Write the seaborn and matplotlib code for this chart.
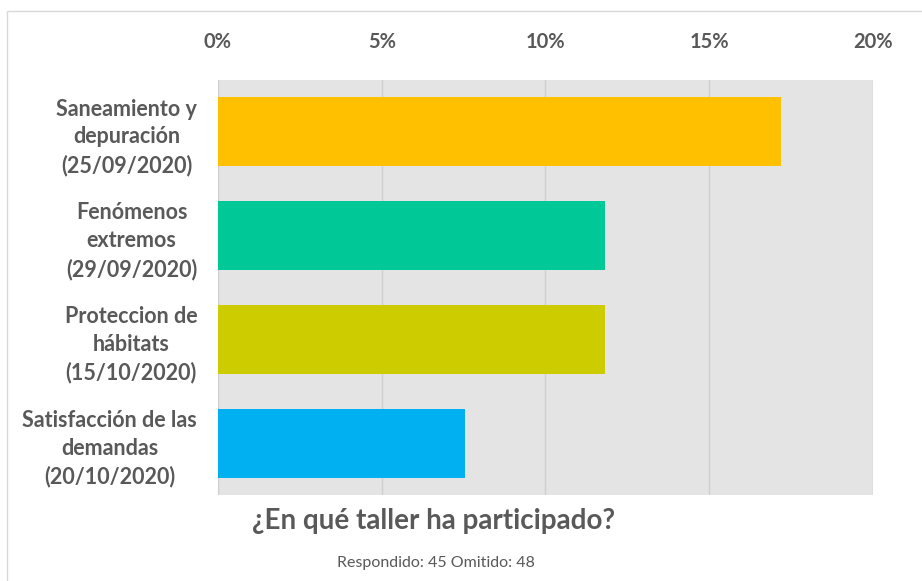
import matplotlib
matplotlib.use("Agg")
import matplotlib.pyplot as plt
import matplotlib.patches as mpatches
from matplotlib.ticker import FuncFormatter
import seaborn as sns
import pandas as pd

# data
talleres = ["Saneamiento y\ndepuración\n(25/09/2020)",
            "Fenómenos\nextremos\n(29/09/2020)",
            "Proteccion de\nhábitats\n(15/10/2020)",
            "Satisfacción de las\ndemandas\n(20/10/2020)"]
porcentajes = [17.2, 11.83, 11.83, 7.53]
colores = ["#FFC000", "#00C896", "#CCCC00", "#00B0F0"]
x_ticks = [0, 5, 10, 15, 20]
titulo = "¿En qué taller ha participado?"
subtitulo = "Respondido: 45 Omitido: 48"

df = pd.DataFrame({"taller": talleres, "pct": porcentajes})

sns.set_theme(style="white")
plt.rcParams['font.family'] = ['Lato', 'DejaVu Sans']
texto = "#595959"

fig = plt.figure(figsize=(9.22, 5.81), dpi=100)
ax = fig.add_axes([0.2364, 0.148, 0.7104, 0.7143])
ax.set_facecolor("#E4E4E4")

sns.barplot(data=df, y="taller", x="pct", hue="taller", palette=colores,
            orient="h", width=0.665, legend=False, ax=ax, saturation=1,
            linewidth=0)

ax.set_xlim(0, 20)
ax.set_xticks(x_ticks)
ax.xaxis.set_major_formatter(FuncFormatter(lambda v, p: f"{v:.0f}%"))
ax.xaxis.tick_top()
ax.grid(axis="x", color="#CFCFCF", linewidth=1)
ax.set_axisbelow(True)
ax.tick_params(axis="x", length=0, pad=20, labelsize=14.5, labelcolor=texto)
ax.tick_params(axis="y", length=0, pad=15, labelsize=15.5, labelcolor=texto)
for lab in ax.get_yticklabels():
    lab.set_horizontalalignment("right")
    lab.set_multialignment("center")
    lab.set_linespacing(1.4)
    lab.set_fontweight("bold")
for lab in ax.get_xticklabels():
    lab.set_fontweight("bold")
ax.set_xlabel("")
ax.set_ylabel("")
for s in ax.spines.values():
    s.set_visible(False)

fig.text(0.47, 0.103, titulo, ha="center", va="center", fontsize=20,
         color=texto, fontweight="bold")
fig.text(0.473, 0.031, subtitulo, ha="center", va="center", fontsize=11.5,
         color=texto)

# outer chart frame (left and top edges visible)
fig.patches.append(mpatches.Rectangle((7 / 922, -0.05), 1.0, 1 - 11 / 581 + 0.05,
                                      transform=fig.transFigure, fill=False,
                                      edgecolor="#D9D9D9", linewidth=1))

fig.savefig("out.png", dpi=100, facecolor="white")
